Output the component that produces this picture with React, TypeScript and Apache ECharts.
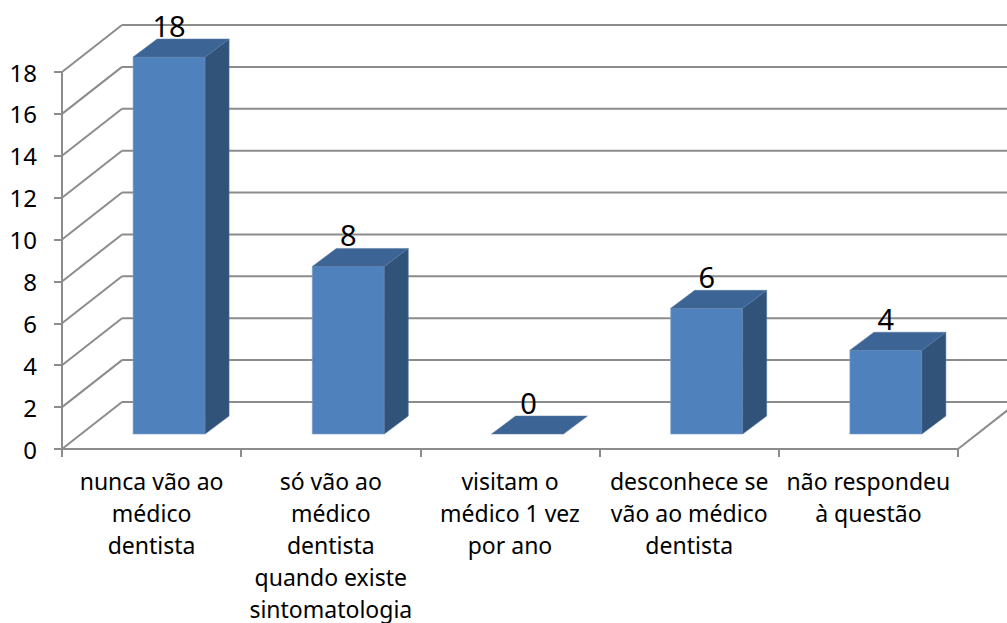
import React, { useEffect, useRef } from "react";
import * as echarts from "echarts";

const categories = [
  "nunca vão ao\nmédico\ndentista",
  "só vão ao\nmédico\ndentista\nquando existe\nsintomatologia",
  "visitam o\nmédico 1 vez\npor ano",
  "desconhece se\nvão ao médico\ndentista",
  "não respondeu\nà questão",
];
const values = [18, 8, 0, 6, 4];
const yTicks = [0, 2, 4, 6, 8, 10, 12, 14, 16, 18];

const FONT = "Noto Sans";
const DX = 60, DY = -47;
const GRID = "#8c8c8c";

export default function App() {
  const ref = useRef<HTMLDivElement>(null);
  useEffect(() => {
    document.body.style.margin = "0";
    const chart = echarts.init(ref.current!, undefined, { renderer: "svg" });
    const wall = (params: any, api: any) => {
      const v = api.value(1);
      const cs = params.coordSys;
      const y = api.coord([0, v])[1];
      const x0 = cs.x, x1 = cs.x + cs.width;
      const ls = { stroke: GRID, lineWidth: 2, fill: "none" };
      const children: any[] = [
        { type: "line", shape: { x1: x0, y1: y, x2: x0 + DX, y2: y + DY }, style: ls },
        { type: "line", shape: { x1: x0 + DX, y1: y + DY, x2: x1 + DX, y2: y + DY }, style: ls },
      ];
      if (v === 0) {
        children.push({ type: "line", shape: { x1, y1: y, x2: x1 + DX, y2: y + DY }, style: ls });
      }
      return { type: "group", children };
    };
    const bar = (params: any, api: any) => {
      const idx = api.value(0);
      const v = api.value(1);
      const c = api.coord([idx, 0]);
      const top = api.coord([idx, v])[1];
      const w = 72, ox = 17.5, oy = -15, dx = 24, dy = -18;
      const l = c[0] + ox - w / 2, r = l + w;
      const b = c[1] + oy, t = top + oy;
      const children: any[] = [];
      if (v > 0) {
        children.push({ type: "rect", shape: { x: l, y: t, width: w, height: b - t }, style: { fill: "#4f81bd", stroke: "#7c9fcb", lineWidth: 0.6 } });
        children.push({ type: "polygon", shape: { points: [[r, t], [r + dx, t + dy], [r + dx, b + dy], [r, b]] }, style: { fill: "#325379", stroke: "#5579a3", lineWidth: 0.5 } });
      }
      children.push({ type: "polygon", shape: { points: [[l, t], [l + dx, t + dy], [r + dx, t + dy], [r, t]] }, style: { fill: "#3c6494", stroke: "#5579a3", lineWidth: 0.5 } });
      children.push({
        type: "text",
        style: {
          x: l + w / 2 + (v === 0 ? 1 : 0), y: t + dy + 1, text: String(v), align: "center", verticalAlign: "bottom",
          fontFamily: FONT, fontSize: 29, fill: "#000",
        },
      });
      return { type: "group", children };
    };
    chart.setOption({
      animation: false,
      backgroundColor: "#fff",
      grid: { left: 62, right: 49, top: 72, bottom: 174, containLabel: false, outerBoundsMode: "none" },
      xAxis: {
        type: "category",
        data: categories,
        axisLine: { lineStyle: { color: GRID, width: 2 } },
        axisTick: { show: true, length: 8, alignWithLabel: false, lineStyle: { color: GRID, width: 2 } },
        axisLabel: { interval: 0, color: "#000", fontFamily: FONT, fontSize: 23, lineHeight: 32, margin: 16, align: "center" },
      },
      yAxis: {
        type: "value", min: 0, max: 18, interval: 2,
        splitLine: { show: false },
        axisLine: { show: true, lineStyle: { color: GRID, width: 2 } },
        axisTick: { show: true, length: 8, lineStyle: { color: GRID, width: 2 } },
        axisLabel: { color: "#000", fontFamily: FONT, fontSize: 24, margin: 25 },
      },
      series: [
        { type: "custom", renderItem: wall, data: yTicks.map((t) => [0, t]), encode: { x: 0, y: 1 }, z: 1, silent: true },
        { type: "custom", renderItem: bar, data: values.map((v, i) => [i, v]), encode: { x: 0, y: 1 }, z: 2, silent: true },
      ],
    });
    return () => chart.dispose();
  }, []);
  return <div ref={ref} style={{ width: 1007, height: 623, overflow: "hidden" }} />;
}
